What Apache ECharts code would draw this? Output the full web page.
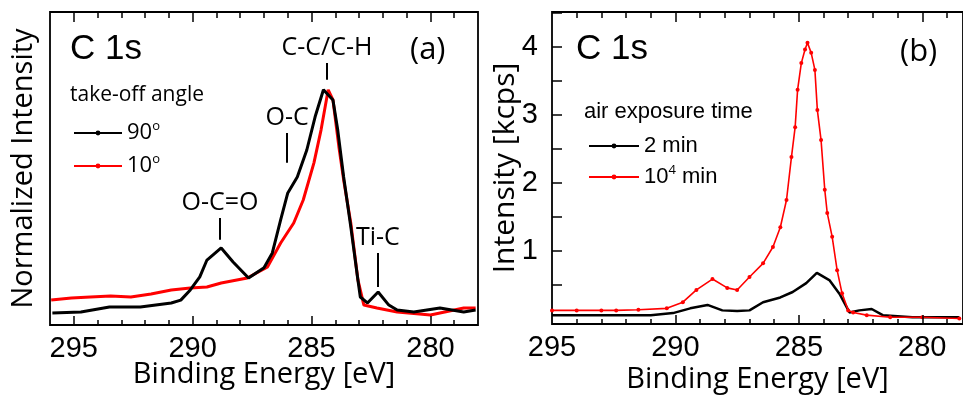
<!DOCTYPE html>
<html>
<head>
<meta charset="utf-8">
<script src="https://cdn.jsdelivr.net/npm/echarts@6/dist/echarts.min.js"></script>
<style>
  html, body { margin: 0; padding: 0; background: #fff; }
  #chart { width: 963px; height: 395px; }
</style>
</head>
<body>
<div id="chart"></div>
<script>
// panel (a): normalized C 1s spectra vs take-off angle
const eA90 = [295.9, 294.7, 293.5, 292.2, 290.9, 290.5, 290.1, 289.7, 289.4, 288.8, 288.3, 287.65, 287.0, 286.65, 286.3, 286.0, 285.6, 285.2, 284.85, 284.5, 284.1, 283.9, 283.65, 283.35, 283.05, 282.95, 282.65, 282.2, 281.75, 281.4, 280.7, 279.6, 278.6, 278.1]
const iA90 = [0.051, 0.055, 0.076, 0.076, 0.093, 0.105, 0.148, 0.203, 0.274, 0.325, 0.266, 0.198, 0.241, 0.304, 0.443, 0.557, 0.624, 0.738, 0.878, 0.992, 0.949, 0.823, 0.624, 0.414, 0.190, 0.118, 0.093, 0.139, 0.084, 0.063, 0.055, 0.072, 0.055, 0.063]
const eA10 = [295.95, 295.1, 294.3, 293.45, 292.6, 291.75, 290.9, 290.1, 289.4, 288.8, 287.7, 286.85, 286.3, 285.75, 285.35, 284.9, 284.6, 284.3, 284.1, 283.85, 283.65, 283.35, 283.05, 282.8, 282.25, 281.4, 280.0, 278.6, 278.1]
const iA10 = [0.105, 0.114, 0.118, 0.122, 0.118, 0.131, 0.148, 0.156, 0.160, 0.177, 0.198, 0.245, 0.346, 0.430, 0.527, 0.684, 0.823, 0.992, 0.949, 0.751, 0.612, 0.430, 0.190, 0.084, 0.072, 0.055, 0.042, 0.072, 0.072]

// panel (b): intensity [kcps] vs air exposure time
const eB2 = [295.0, 293.7, 291.0, 290.1, 289.4, 288.7, 288.1, 287.5, 287.0, 286.45, 285.75, 285.25, 284.7, 284.27, 283.75, 283.35, 282.95, 282.55, 282.05, 281.6, 280.4, 278.5]
const iB2 = [0.06, 0.06, 0.06, 0.09, 0.16, 0.21, 0.13, 0.12, 0.13, 0.25, 0.32, 0.40, 0.53, 0.68, 0.57, 0.37, 0.10, 0.13, 0.15, 0.06, 0.03, 0.03]
const eB4 = [295.0, 294.0, 293.0, 292.4, 291.5, 290.35, 289.7, 289.15, 288.5, 287.9, 287.5, 287.0, 286.45, 286.05, 285.75, 285.5, 285.3, 285.15, 285.05, 284.9, 284.75, 284.65, 284.5, 284.35, 284.25, 284.1, 283.95, 283.85, 283.65, 283.45, 283.25, 283.0, 282.8, 282.25, 281.3, 280.0, 278.5]
const iB4 = [0.13, 0.13, 0.13, 0.13, 0.14, 0.16, 0.25, 0.43, 0.59, 0.46, 0.43, 0.62, 0.82, 1.06, 1.35, 1.75, 2.38, 2.82, 3.37, 3.76, 3.96, 4.06, 3.91, 3.66, 3.07, 2.63, 1.90, 1.56, 1.21, 0.72, 0.38, 0.13, 0.10, 0.06, 0.03, 0.03, 0.01]

// tick values and labels
const xLabels = [280, 285, 290, 295]
const xTicksA = [279, 280, 281, 282, 283, 284, 285, 286, 287, 288, 289, 290, 291, 292, 293, 294, 295]
const xTicksB = [279, 280, 281, 282, 283, 284, 285, 286, 287, 288, 289, 290, 291, 292, 293, 294]
const yTicksB = [0.5, 1, 1.5, 2, 2.5, 3, 3.5, 4, 4.5]
const yLabelsB = [1, 2, 3, 4]

// peak markers in panel (a): [label, energy, lower, upper]
const peaksA = [
  ['C-C/C-H', 284.35, 1.034, 1.105],
  ['O-C', 286.03, 0.684, 0.810],
  ['O-C=O', 288.85, 0.359, 0.451],
  ['Ti-C', 282.21, 0.160, 0.304]
]

// axis ranges and panel boxes
const xA = [278, 296], yA = [0, 1.32]
const xB = [278.35, 295], yB = [-0.07, 4.51]
const boxA = { left: 50, top: 12, width: 428, height: 313 }
const boxB = { left: 552, top: 12, width: 411, height: 312 }

const zip = (xs, ys) => xs.map((x, i) => [x, ys[i]])
const numFont = 'Liberation Sans'
const txtFont = 'Open Sans'

// inward ticks (top and bottom) as short marker lines, lengths converted from px to data units
function xTickLines(values, yr, box) {
  const perPx = (yr[1] - yr[0]) / box.height
  const out = []
  values.forEach(v => {
    const major = v % 5 === 0
    out.push([{ coord: [v, yr[0]] }, { coord: [v, yr[0] + (major ? 9 : 5) * perPx] }])
    out.push([{ coord: [v, yr[1]] }, { coord: [v, yr[1] - (major ? 10 : 6) * perPx] }])
  })
  return out
}

function tickMarks(data) {
  return {
    silent: true, symbol: 'none', animation: false,
    lineStyle: { color: '#000', width: 1.5, type: 'solid' },
    label: { show: false },
    emphasis: { disabled: true },
    data: data
  }
}

const yTicksLinesB = yTicksB.map(v => [
  { coord: [xB[1], v] },
  { coord: [xB[1] - 10 * (xB[1] - xB[0]) / boxB.width, v] }
])

function xAxis(gi, range, gap) {
  return {
    type: 'value', gridIndex: gi, min: range[0], max: range[1], inverse: true,
    axisLine: { show: false, onZero: false }, axisTick: { show: false }, splitLine: { show: false },
    axisLabel: { customValues: xLabels, color: '#000', fontSize: 29, fontFamily: numFont, margin: 9 },
    name: 'Binding Energy [eV]', nameLocation: 'middle', nameGap: gap, nameMoveOverlap: false,
    nameTextStyle: { color: '#000', fontSize: 29, fontFamily: txtFont }
  }
}

const supRich = { s: { fontSize: 13, verticalAlign: 'top', padding: [0, 0, 12, 0], fontFamily: txtFont, color: '#000' } }
const legendText = { color: '#000', fontSize: 22, fontFamily: txtFont, lineHeight: 26, rich: supRich }

const chart = echarts.init(document.getElementById('chart'))

const option = {
  animation: false,
  backgroundColor: '#fff',
  grid: [
    Object.assign({ outerBoundsMode: 'none', containLabel: false, show: true, backgroundColor: 'transparent', borderColor: '#000', borderWidth: 1.8 }, boxA),
    Object.assign({ outerBoundsMode: 'none', containLabel: false, show: true, backgroundColor: 'transparent', borderColor: '#000', borderWidth: 1.8 }, boxB)
  ],
  xAxis: [xAxis(0, xA, 35), xAxis(1, xB, 41)],
  yAxis: [
    {
      type: 'value', gridIndex: 0, min: yA[0], max: yA[1],
      axisLine: { show: false }, axisTick: { show: false }, axisLabel: { show: false }, splitLine: { show: false },
      name: 'Normalized Intensity', nameLocation: 'middle', nameGap: 12,
      nameTextStyle: { color: '#000', fontSize: 29, fontFamily: txtFont }
    },
    {
      type: 'value', gridIndex: 1, min: yB[0], max: yB[1],
      axisLine: { show: false, onZero: false }, axisTick: { show: false }, splitLine: { show: false },
      axisLabel: { customValues: yLabelsB, color: '#000', fontSize: 29, fontFamily: numFont, margin: 14 },
      name: 'Intensity [kcps]', nameLocation: 'middle', nameGap: 32, nameMoveOverlap: false,
      nameTextStyle: { color: '#000', fontSize: 30, fontFamily: txtFont }
    }
  ],
  legend: [
    {
      data: ['90°', '10°'], left: 68, top: 115, orient: 'vertical', itemGap: 7,
      itemWidth: 48, itemHeight: 6, textStyle: legendText,
      formatter: n => n.replace('°', '{s|o}')
    },
    {
      data: ['2 min', '10⁴ min'], left: 583, top: 128, orient: 'vertical', itemGap: 5,
      itemWidth: 50, itemHeight: 6, textStyle: Object.assign({}, legendText, { fontFamily: numFont }),
      formatter: n => n.replace('⁴', '{s|4}')
    }
  ],
  graphic: [
    { type: 'text', left: 70, top: 32, style: { text: 'C 1s', fontSize: 35, fontFamily: numFont, fill: '#000' } },
    { type: 'text', left: 410, top: 35, style: { text: '(a)', fontSize: 31, fontFamily: txtFont, fill: '#000' } },
    { type: 'text', left: 70, top: 85, style: { text: 'take-off angle', fontSize: 21, fontFamily: txtFont, fill: '#000' } },
    { type: 'text', left: 576, top: 32, style: { text: 'C 1s', fontSize: 35, fontFamily: numFont, fill: '#000' } },
    { type: 'text', left: 900, top: 37, style: { text: '(b)', fontSize: 31, fontFamily: txtFont, fill: '#000' } },
    { type: 'text', left: 584, top: 101, style: { text: 'air exposure time', fontSize: 22, fontFamily: numFont, fill: '#000' } }
  ],
  series: [
    {
      name: '90°', type: 'line', xAxisIndex: 0, yAxisIndex: 0, data: zip(eA90, iA90),
      showSymbol: false, symbol: 'circle', symbolSize: 3, z: 3,
      lineStyle: { color: '#000', width: 3 }, itemStyle: { color: '#000' },
      markLine: {
        silent: true, symbol: 'none', animation: false,
        lineStyle: { color: '#000', width: 2, type: 'solid' },
        label: { position: 'end', formatter: p => p.name, color: '#000', fontSize: 25, fontFamily: txtFont, distance: 3 },
        data: peaksA.map(p => [{ name: p[0], coord: [p[1], p[2]] }, { coord: [p[1], p[3]] }])
      }
    },
    {
      name: '10°', type: 'line', xAxisIndex: 0, yAxisIndex: 0, data: zip(eA10, iA10),
      showSymbol: false, symbol: 'circle', symbolSize: 3, z: 2,
      lineStyle: { color: '#ff0000', width: 3 }, itemStyle: { color: '#ff0000' },
      markLine: tickMarks(xTickLines(xTicksA, yA, boxA))
    },
    {
      name: '2 min', type: 'line', xAxisIndex: 1, yAxisIndex: 1, data: zip(eB2, iB2),
      showSymbol: false, symbol: 'circle', symbolSize: 3, z: 2,
      lineStyle: { color: '#000', width: 2.5 }, itemStyle: { color: '#000' },
      markLine: tickMarks(xTickLines(xTicksB, yB, boxB).concat(yTicksLinesB))
    },
    {
      name: '10⁴ min', type: 'line', xAxisIndex: 1, yAxisIndex: 1, data: zip(eB4, iB4),
      symbol: 'circle', symbolSize: 4, z: 3,
      lineStyle: { color: '#ff0000', width: 1.6 }, itemStyle: { color: '#ff0000' }
    }
  ]
}

chart.setOption(option)
</script>
</body>
</html>
